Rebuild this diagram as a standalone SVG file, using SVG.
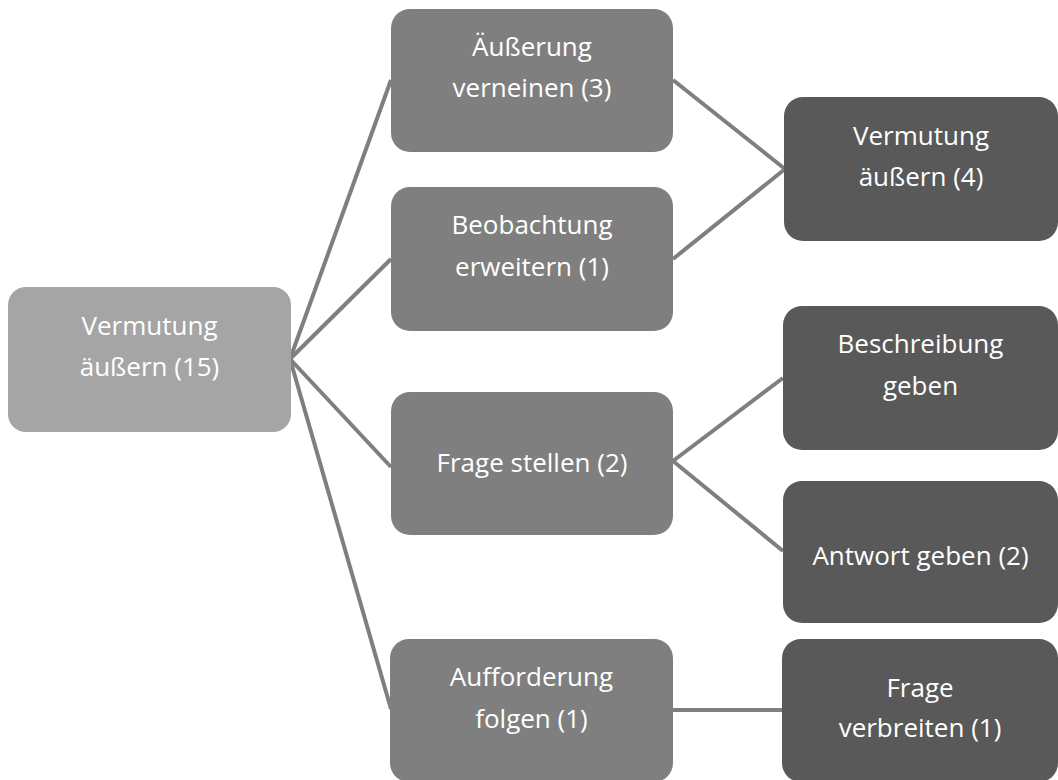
<svg xmlns="http://www.w3.org/2000/svg" width="1058" height="780" viewBox="0 0 1058 780">
<style>
.l1{fill:#a5a5a5}
.l2{fill:#7f7f7f}
.l3{fill:#595959}
text{font-family:"Open Sans","Noto Sans",sans-serif;font-size:26px;fill:#ffffff;text-anchor:middle}
.c{stroke:#7f7f7f;stroke-width:4;fill:none}
</style>
<rect width="1058" height="780" fill="#ffffff"/>
<g id="connectors">
<line class="c" x1="290" y1="359" x2="391" y2="80"/>
<line class="c" x1="290" y1="359" x2="391" y2="259"/>
<line class="c" x1="290" y1="359" x2="391" y2="467"/>
<line class="c" x1="290" y1="359" x2="391" y2="709"/>
<line class="c" x1="673" y1="80" x2="785" y2="169"/>
<line class="c" x1="673" y1="259" x2="785" y2="169"/>
<line class="c" x1="673" y1="461" x2="783" y2="378"/>
<line class="c" x1="673" y1="461" x2="783" y2="551"/>
<line class="c" x1="673" y1="710" x2="783" y2="710"/>
</g>
<g id="n-root">
<rect class="l1" x="8" y="287" width="283" height="145" rx="18"/>
<text x="149.5" y="335">Vermutung</text>
<text x="149.5" y="376">äußern (15)</text>
</g>
<g id="n-verneinen">
<rect class="l2" x="391" y="9" width="282" height="143" rx="19"/>
<text x="532" y="56">Äußerung</text>
<text x="532" y="97">verneinen (3)</text>
</g>
<g id="n-beobachtung">
<rect class="l2" x="391" y="187" width="282" height="144" rx="19"/>
<text x="532" y="234">Beobachtung</text>
<text x="532" y="276">erweitern (1)</text>
</g>
<g id="n-frage-stellen">
<rect class="l2" x="391" y="392" width="282" height="143" rx="19"/>
<text x="532" y="472">Frage stellen (2)</text>
</g>
<g id="n-aufforderung">
<rect class="l2" x="390" y="639" width="283" height="143" rx="19"/>
<text x="531.5" y="686">Aufforderung</text>
<text x="531.5" y="728">folgen (1)</text>
</g>
<g id="n-vermutung4">
<rect class="l3" x="784" y="97" width="274" height="144" rx="19"/>
<text x="921" y="145">Vermutung</text>
<text x="921" y="186">äußern (4)</text>
</g>
<g id="n-beschreibung">
<rect class="l3" x="783" y="306" width="275" height="144" rx="19"/>
<text x="920.5" y="353">Beschreibung</text>
<text x="920.5" y="395">geben</text>
</g>
<g id="n-antwort">
<rect class="l3" x="783" y="481" width="275" height="142" rx="19"/>
<text x="920.5" y="565">Antwort geben (2)</text>
</g>
<g id="n-frage-verbreiten">
<rect class="l3" x="782" y="639" width="276" height="143" rx="19"/>
<text x="920" y="697">Frage</text>
<text x="920" y="737">verbreiten (1)</text>
</g>
</svg>
